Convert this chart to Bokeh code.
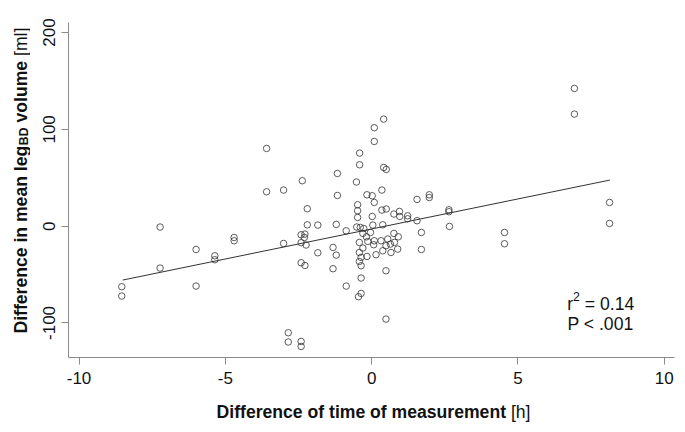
import math
from bokeh.plotting import figure
from bokeh.layouts import row, column
from bokeh.models import Range1d, FixedTicker, Label, ColumnDataSource
from bokeh.embed import file_html
from bokeh.resources import INLINE

# ---- data ----
time_diff_h = [
    -8.54, -8.54, -7.23, -7.23, -6.00, -6.00, -5.36, -5.36, -4.70, -4.70,
    -3.59, -3.59, -3.01, -3.01, -2.85, -2.85, -2.41, -2.41, -2.37, -2.20,
    -2.20, -1.84, -2.41, -2.28, -2.30, -2.41, -2.24, -1.84, -2.41, -2.28,
    -1.32, -1.21, -1.32, -1.17, -1.17, -1.21, -0.87, -0.87, -0.52, -0.41,
    -0.41, 0.09, 0.09, 0.41, 0.41, 0.50, 0.35, -0.16, 0.02, 0.09,
    -0.48, -0.48, -0.48, 0.35, 0.50, 0.02, 0.76, 0.95, 0.96, 1.23,
    1.23, 1.55, 1.55, 1.97, 1.97, 2.64, 2.64, 2.66, 1.70, 1.70,
    4.54, 4.54, 6.93, 6.93, 8.13, 8.13, -0.51, -0.39, -0.27, 0.04,
    0.38, -0.30, -0.04, -0.18, -0.42, -0.30, -0.42, -0.36, -0.42, -0.36,
    -0.36, -0.13, 0.09, 0.07, 0.32, 0.55, 0.76, 0.91, 0.78, 0.64,
    0.49, 0.38, 0.15, -0.16, 0.89, 0.66, 0.49, 0.49, -0.36, -0.45,
]
volume_diff_ml = [
    -62.6, -72.2, -0.9, -43.3, -24.1, -61.9, -30.6, -34.7, -11.7, -15.1,
    80.3, 35.5, 37.3, -17.9, -110.1, -119.7, -119.1, -124.3, 46.9, 18.0,
    1.4, 1.1, -8.9, -8.2, -11.7, -17.1, -19.5, -27.5, -37.8, -40.6,
    -22.0, -29.9, -44.0, 54.4, 31.7, 1.8, -4.8, -61.9, 45.6, 75.5,
    63.4, 101.7, 87.5, 110.6, 60.6, 58.6, 37.3, 32.4, 31.4, 24.5,
    22.1, 15.9, 9.0, 16.6, 17.7, 10.0, 12.5, 15.2, 10.0, 10.7,
    7.6, 27.6, 5.6, 32.4, 29.6, 16.9, 14.9, -0.3, -6.5, -24.1,
    -6.5, -18.2, 142.3, 115.8, 24.5, 2.8, -0.9, -1.3, -2.4, 1.1,
    1.4, -7.5, -6.5, -11.0, -16.8, -22.6, -27.2, -32.3, -36.5, -40.9,
    -53.6, -15.8, -15.1, -19.2, -15.1, -13.3, -7.5, -11.0, -16.8, -18.5,
    -20.2, -25.4, -29.5, -31.3, -23.7, -27.2, -46.1, -96.0, -69.5, -72.9,
]
fit_x = [-8.51, 8.14]
fit_y = [-55.7, 47.6]
x_ticks = [-10, -5, 0, 5, 10]
y_ticks = [-100, 0, 100, 200]
r2_text = "0.14"
p_text = ".001"

FONT = "Liberation Sans"
FS = 17.6

def lab(fig, text, x, y, size=FS, bold=False, angle=0.0, align="left"):
    # x, y in pixels from the bottom-left corner of the figure's frame
    fig.add_layout(Label(x=x, y=y, x_units="screen", y_units="screen", text=text,
                         text_font=FONT, text_font_size=f"{size}px",
                         text_font_style="bold" if bold else "normal",
                         text_color="#111111", angle=angle, text_align=align,
                         text_baseline="alphabetic"))

def blank(w, h):
    f = figure(width=w, height=h, output_backend="svg", toolbar_location=None,
               x_axis_type=None, y_axis_type=None,
               x_range=Range1d(0, w), y_range=Range1d(0, h),
               min_border=0, min_border_left=0, min_border_right=0,
               min_border_top=0, min_border_bottom=0)
    f.outline_line_color = None
    f.xgrid.visible = False
    f.ygrid.visible = False
    f.background_fill_color = "white"
    f.border_fill_color = "white"
    return f

# ---- main scatter plot ----
p = figure(width=647, height=391, output_backend="svg", toolbar_location=None,
           x_range=Range1d(-10.36, 10.35), y_range=Range1d(-135.7, 210.4),
           min_border_left=38, min_border_right=3, min_border_top=22,
           min_border_bottom=34)
p.outline_line_color = None
p.xgrid.visible = False
p.ygrid.visible = False
p.background_fill_color = "white"
p.border_fill_color = "white"

p.xaxis.ticker = FixedTicker(ticks=x_ticks)
p.yaxis.ticker = FixedTicker(ticks=y_ticks)
for ax in (p.xaxis, p.yaxis):
    ax.axis_line_color = "#8a8a8a"
    ax.axis_line_width = 1
    ax.major_tick_line_color = "#8a8a8a"
    ax.major_tick_in = 0
    ax.major_tick_out = 7
    ax.minor_tick_line_color = None
    ax.major_label_text_font = FONT
    ax.major_label_text_font_size = "17px"
    ax.major_label_text_color = "#111111"
p.xaxis.major_label_standoff = 7
p.yaxis.major_label_standoff = 6
p.xaxis.major_label_overrides = {t: str(t) for t in x_ticks}
p.yaxis.major_label_overrides = {t: str(t) for t in y_ticks}
p.yaxis.major_label_orientation = "vertical"

p.line(fit_x, fit_y, line_color="#333333", line_width=1)
src = ColumnDataSource(dict(x=time_diff_h, y=volume_diff_ml))
p.scatter("x", "y", source=src, marker="circle", size=6.5, fill_color=None,
          line_color="#333333", line_width=0.8)

# statistics inside the plot
lab(p, "r", 498.7, 53.7)
lab(p, "2", 504.6, 60.7, size=12.3)
lab(p, "= " + r2_text, 516.3, 53.7)
lab(p, "P < " + p_text, 499, 33.7)

# ---- y-axis title panel (left) ----
yl = blank(30, 424)
a = math.pi / 2
lab(yl, "Difference in mean leg", 20, 91, bold=True, angle=a)
lab(yl, "BD", 23, 279.3, size=12.3, bold=True, angle=a)
lab(yl, "volume", 20, 302.0, bold=True, angle=a)
lab(yl, "[ml]", 20, 368.5, angle=a)

# ---- x-axis title panel (below) ----
xl = blank(647, 33)
lab(xl, "Difference of time of measurement", 437.5, 13, bold=True, align="right")
lab(xl, "[h]", 442.4, 13)

layout = row(yl, column(p, xl, spacing=0), spacing=0)

open("out.html", "w").write(file_html(layout, INLINE))
